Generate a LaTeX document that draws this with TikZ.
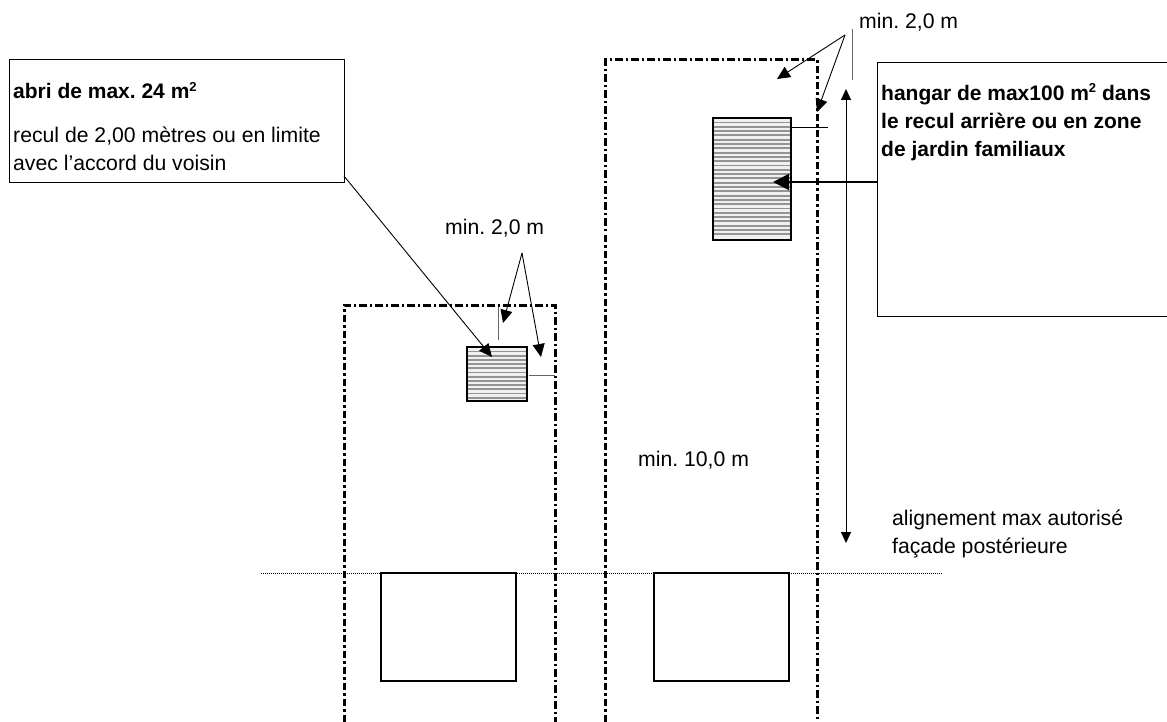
\documentclass[tikz,border=0pt]{standalone}
\usepackage{fontspec}
\setmainfont{Liberation Sans}
\usetikzlibrary{arrows.meta}
\frenchspacing
\newcommand{\supertwo}{\raisebox{7.5pt}{\fontsize{13pt}{14pt}\selectfont 2}}
\tikzset{
  lot/.style={draw=black,line width=3pt,dash pattern=on 7.5pt off 3pt on 2.5pt off 3pt},
  housebox/.style={draw=black,line width=1.6pt,fill=white},
  shedframe/.style={draw=black,line width=1.8pt},
  hatchline/.style={draw=black!42,line width=1.9pt},
  shedfill/.style={fill=black!6,draw=none},
  infobox/.style={draw=black,line width=0.9pt,fill=white},
  lbl/.style={anchor=base west,inner sep=0pt,font=\fontsize{21.2pt}{24pt}\selectfont},
  blbl/.style={lbl,font=\fontsize{21pt}{24pt}\selectfont\bfseries},
  ptr/.style={draw=black,line width=0.9pt,-{Triangle[length=13pt,width=12pt]}},
  bigptr/.style={draw=black,line width=2pt,-{Triangle[length=16pt,width=16pt]}},
  tick/.style={draw=black!60,line width=1pt},
  dimline/.style={draw=black,line width=1pt,{Triangle[length=11pt,width=10pt]}-{Triangle[length=11pt,width=10pt]}},
}
\begin{document}
\begin{tikzpicture}[x=1pt,y=-1pt]
\useasboundingbox (0,0) rectangle (1167,722);
% lots
\draw[lot] (344,722) -- (344,305) -- (555,305) -- (555,722);
\draw[lot] (605,722) -- (605,60) -- (817,60) -- (817,722);
% dotted line
\coordinate (dotL) at (261,573);
\coordinate (dotR) at (943,573);
\draw[black,line width=1pt,dash pattern=on 1pt off 1pt] (dotL) -- (dotR);
% houses
\node[housebox,minimum width=135pt,minimum height=108pt,inner sep=0pt] (house1) at (448.5,627) {};
\node[housebox,minimum width=135pt,minimum height=108pt,inner sep=0pt] (house2) at (721.5,627) {};
% sheds
\fill[shedfill] (467,347) rectangle (527,401);
\fill[shedfill] (713,118) rectangle (791,240);
\foreach \yy in {351.5,355.7,...,400} {\draw[hatchline] (467,\yy) -- (527,\yy);}
\foreach \yy in {122.5,126.8,...,238.5} {\draw[hatchline] (713,\yy) -- (791,\yy);}
\node[shedframe,minimum width=60pt,minimum height=54pt,inner sep=0pt] (shed1) at (497,374) {};
\node[shedframe,minimum width=78pt,minimum height=122pt,inner sep=0pt] (shed2) at (752,179) {};
% info boxes
\node[infobox,minimum width=335pt,minimum height=123pt,inner sep=0pt] (box1) at (176.5,120.5) {};
\node[infobox,minimum width=292pt,minimum height=254pt,inner sep=0pt] (box2) at (1023,189) {};
\node[blbl] (t1) at (13,99) {abri de max. 24 m\supertwo};
\node[lbl] (t2) at (13,143) {recul de 2,00 mètres ou en limite};
\node[lbl] (t3) at (13,171) {avec l’accord du voisin};
\node[blbl] (t4) at (881,100.5) {hangar de max100 m\supertwo{} dans};
\node[blbl] (t5) at (881,128.5) {le recul arrière ou en zone};
\node[blbl] (t6) at (881,157) {de jardin familiaux};
\node[lbl] (t7) at (445,234) {min. 2,0 m};
\node[lbl] (t8) at (859,29) {min. 2,0 m};
\node[lbl] (t9) at (638,466) {min. 10,0 m};
\node[lbl] (t10) at (892,525) {alignement max autorisé};
\node[lbl] (t11) at (892,553) {façade postérieure};
% connectors
\coordinate (apex1) at (522,253);
\coordinate (a1a) at (503,323);
\coordinate (a1b) at (541,357);
\draw[ptr] (apex1) -- (a1a);
\draw[ptr] (apex1) -- (a1b);
\coordinate (apex2) at (845,35);
\coordinate (a2a) at (777,79);
\coordinate (a2b) at (817,112);
\draw[ptr] (apex2) -- (a2a);
\draw[ptr] (apex2) -- (a2b);
\coordinate (b1c) at (344,176);
\coordinate (s1t) at (492,357);
\draw[ptr] (b1c) -- (s1t);
\coordinate (b2l) at (box2.west |- 0,182);
\coordinate (s2m) at (773,182);
\draw[bigptr] (b2l) -- (s2m);
\coordinate (dimT) at (846,89);
\coordinate (dimB) at (846,543);
\draw[dimline] (dimT) -- (dimB);
% ticks
\coordinate (k1) at (498,307); \coordinate (k2) at (498,340);
\draw[tick] (k1) -- (k2);
\coordinate (k3) at (529,375); \coordinate (k4) at (555,375);
\draw[tick] (k3) -- (k4);
\coordinate (k5) at (852,29); \coordinate (k6) at (852,80);
\draw[tick] (k5) -- (k6);
\coordinate (k7) at (792,127); \coordinate (k8) at (828,127);
\draw[draw=black,line width=0.8pt] (k7) -- (k8);
\end{tikzpicture}
\end{document}
